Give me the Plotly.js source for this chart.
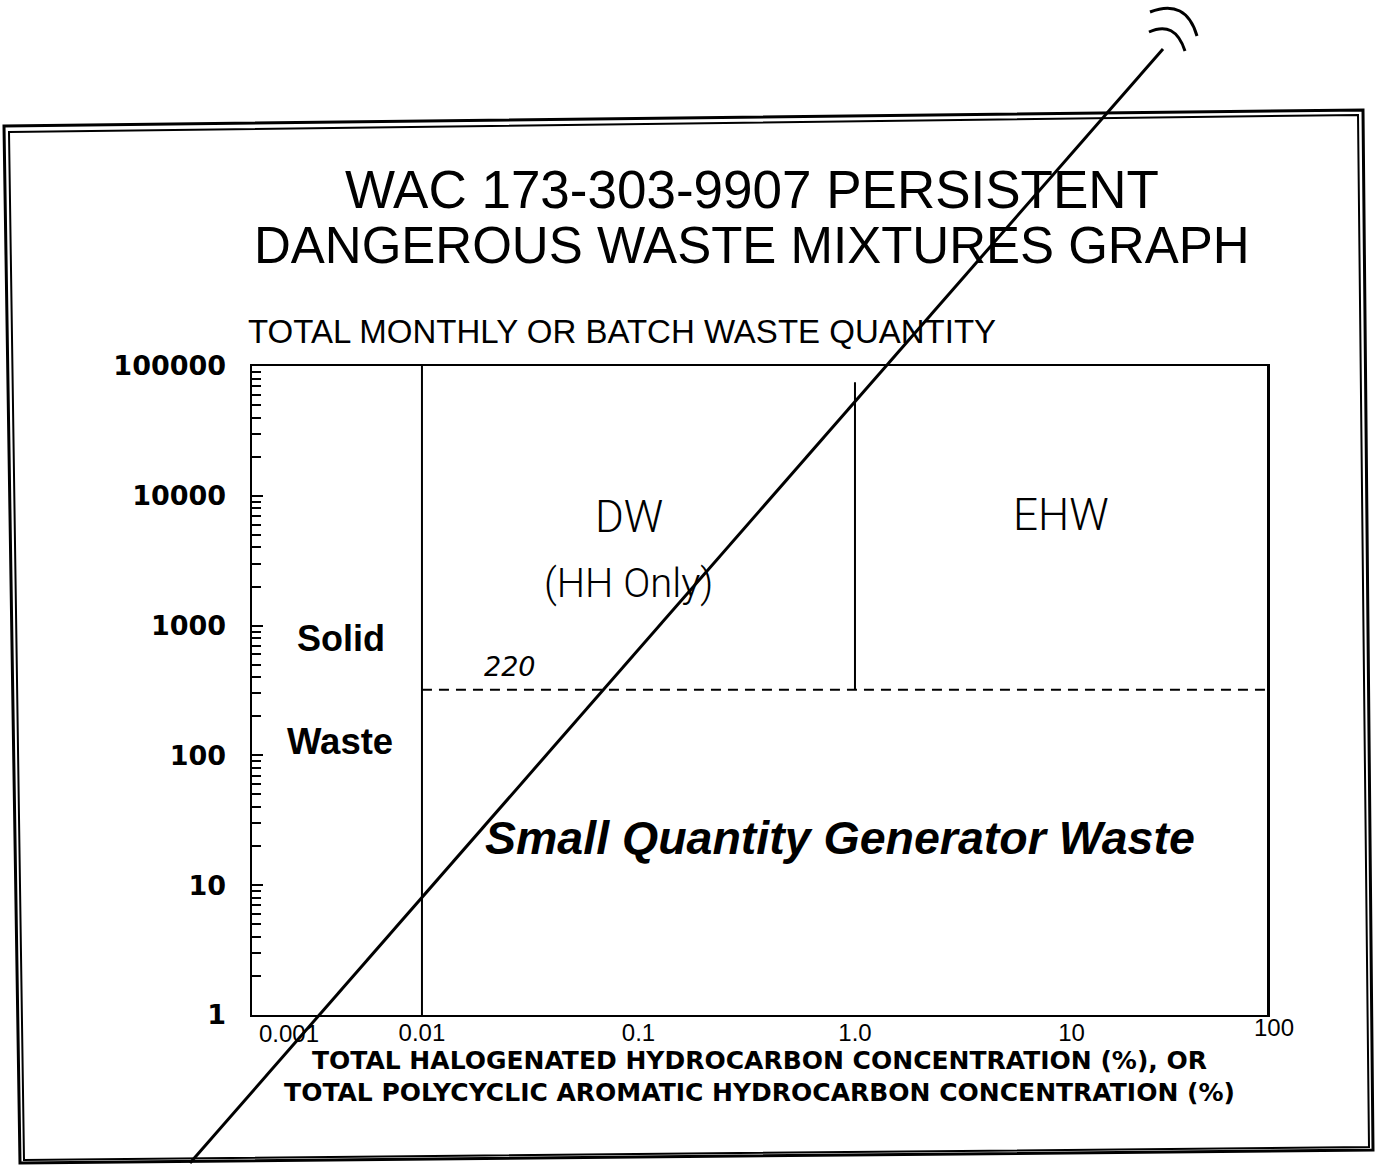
<!DOCTYPE html>
<html>
<head>
<meta charset="utf-8">
<script src="https://cdn.plot.ly/plotly-3.0.1.min.js"></script>
<style>html,body{margin:0;padding:0;background:#fff;}#chart{width:1376px;height:1167px;}</style>
</head>
<body>
<div id="chart"></div>
<script>
// ---- data ----
const xTickVals = [0.001, 0.01, 0.1, 1, 10, 100];
const xTickText = ["0.001", "0.01", "0.1", "1.0", "10", "100"];
const yTickVals = [1, 10, 100, 1000, 10000, 100000];
const yTickText = ["1", "10", "100", "1000", "10000", "100000"];
const yMinorTicks = [2,3,4,5,6,7,8,9, 20,30,40,50,60,70,80,90, 200,300,400,500,600,700,800,900,
                     2000,3000,4000,5000,6000,7000,8000,9000, 20000,30000,40000,50000,60000,70000,80000,90000];

// boundaries between regions
const solidBoundaryX = [0.01, 0.01];
const solidBoundaryY = [1, 100000];
const ehwBoundaryX = [1, 1];
const ehwBoundaryY = [320, 75000];
const thresholdX = [0.01, 100];
const thresholdY = [320, 320];
const thresholdLabel = "220";

const titleLines = ["WAC 173-303-9907 PERSISTENT", "DANGEROUS WASTE MIXTURES GRAPH"];
const yTitle = "TOTAL MONTHLY OR BATCH WASTE QUANTITY";
const xTitleLines = ["TOTAL HALOGENATED HYDROCARBON CONCENTRATION (%), OR",
                     "TOTAL POLYCYCLIC AROMATIC HYDROCARBON CONCENTRATION (%)"];
const regionLabels = ["DW", "(HH Only)", "EHW", "Solid", "Waste", "Small Quantity Generator Waste"];

// ---- layout geometry ----
const W = 1376, H = 1167;
const L = 252, R = 1267, T = 366, B = 1015;
const PW = R - L, PH = B - T;
const xRangeLog = [-2.785, 1.903];
const px = v => (v - L) / PW;
const py = v => (B - v) / PH;
const FONT = "Liberation Sans, Arial, Helvetica, sans-serif";
const BOLDFONT = "DejaVu Sans, " + FONT;
const LIGHTFONT = "Roboto, " + FONT;

const lineStyle = {color: "black", width: 2};
const traces = [
  {x: solidBoundaryX, y: solidBoundaryY, mode: "lines", line: lineStyle, hoverinfo: "skip", showlegend: false},
  {x: ehwBoundaryX, y: ehwBoundaryY, mode: "lines", line: lineStyle, hoverinfo: "skip", showlegend: false},
  {x: thresholdX, y: thresholdY, mode: "lines", line: {color: "black", width: 2, dash: "10px,7px"}, hoverinfo: "skip", showlegend: false}
];

function ann(text, x, y, font, opts) {
  return Object.assign({text: text, xref: "paper", yref: "paper", x: px(x), y: py(y),
    xanchor: "center", yanchor: "middle", showarrow: false,
    font: Object.assign({family: FONT, color: "black"}, font)}, opts || {});
}

const annotations = [
  ann(titleLines[0], 752, 189, {size: 53}),
  ann(titleLines[1], 752, 245, {size: 51}),
  ann(yTitle, 246, 331, {size: 33}, {xanchor: "left"}),
  ann(regionLabels[0], 629, 517, {size: 44, family: LIGHTFONT, weight: 300}),
  ann(regionLabels[1], 628, 583, {size: 40, family: LIGHTFONT, weight: 300}),
  ann(regionLabels[2], 1061, 515, {size: 44, family: LIGHTFONT, weight: 300}),
  ann(regionLabels[3], 341, 638, {size: 36, weight: "bold"}),
  ann(regionLabels[4], 340, 741, {size: 36.5, weight: "bold"}),
  ann(thresholdLabel, 510, 666, {size: 27, style: "italic", family: BOLDFONT}),
  ann(regionLabels[5], 840, 838, {size: 46.5, weight: "bold", style: "italic"})
];

// x tick labels that fall outside the drawn range sit at the frame edges
xTickVals.forEach((v, i) => {
  const lv = Math.log10(v);
  if (lv < xRangeLog[0]) annotations.push(ann(xTickText[i], 257, 1033, {size: 24}, {xanchor: "left"}));
  if (lv > xRangeLog[1]) annotations.push(ann(xTickText[i], 1296, 1027, {size: 24}, {xanchor: "right"}));
});

const P = pts => pts.map((p, i) => (i ? "L" : "M") + px(p[0]).toFixed(5) + "," + py(p[1]).toFixed(5)).join(" ") + " Z";
const shapes = [
  // double frame around the page
  {type: "path", xref: "paper", yref: "paper", path: P([[4,126],[1363,110],[1373,1150],[20,1163]]), line: {color: "black", width: 3}, layer: "above"},
  {type: "path", xref: "paper", yref: "paper", path: P([[9,132],[1358,115],[1369,1147],[24,1160]]), line: {color: "black", width: 2}, layer: "above"},
  // diagonal strike-through across the page
  {type: "line", xref: "paper", yref: "paper", x0: px(190), y0: py(1163), x1: px(1163), y1: py(49), line: {color: "black", width: 3}, layer: "above"},
  // two arcs at the top of the strike
  {type: "path", xref: "paper", yref: "paper",
   path: "M" + px(1150) + "," + py(12) + " Q" + px(1186) + "," + py(-2) + " " + px(1197) + "," + py(36), line: {color: "black", width: 3}},
  {type: "path", xref: "paper", yref: "paper",
   path: "M" + px(1149) + "," + py(32) + " Q" + px(1175) + "," + py(20) + " " + px(1185) + "," + py(51), line: {color: "black", width: 3}}
];

const layout = {
  width: W, height: H, autosize: false,
  margin: {l: L, r: W - R, t: T, b: H - B, pad: 0},
  paper_bgcolor: "white", plot_bgcolor: "white",
  showlegend: false,
  font: {family: FONT, color: "black"},
  xaxis: {
    type: "log", range: xRangeLog,
    tickmode: "array", tickvals: xTickVals, ticktext: xTickText,
    ticks: "", showline: true, mirror: true, linecolor: "black", linewidth: 2,
    showgrid: false, zeroline: false,
    tickfont: {family: FONT, size: 24, color: "black"},
    ticklabelstandoff: -5,
    title: {text: xTitleLines.join("<br>"), font: {family: BOLDFONT, size: 25, weight: "bold", color: "black"}, standoff: 1}
  },
  yaxis: {
    type: "log", range: [0, 5],
    tickmode: "array", tickvals: yTickVals, ticktext: yTickText,
    ticks: "inside", ticklen: 11, tickwidth: 2, tickcolor: "black",
    minor: {tickmode: "array", tickvals: yMinorTicks, ticks: "inside", ticklen: 9, tickwidth: 2, tickcolor: "black", showgrid: false},
    showline: true, mirror: true, linecolor: "black", linewidth: 2.5,
    showgrid: false, zeroline: false,
    tickfont: {family: BOLDFONT, size: 27, weight: "bold", color: "black"},
    ticklabelstandoff: 18
  },
  annotations: annotations,
  shapes: shapes
};

Plotly.newPlot("chart", traces, layout, {staticPlot: true, displayModeBar: false});
</script>
</body>
</html>
